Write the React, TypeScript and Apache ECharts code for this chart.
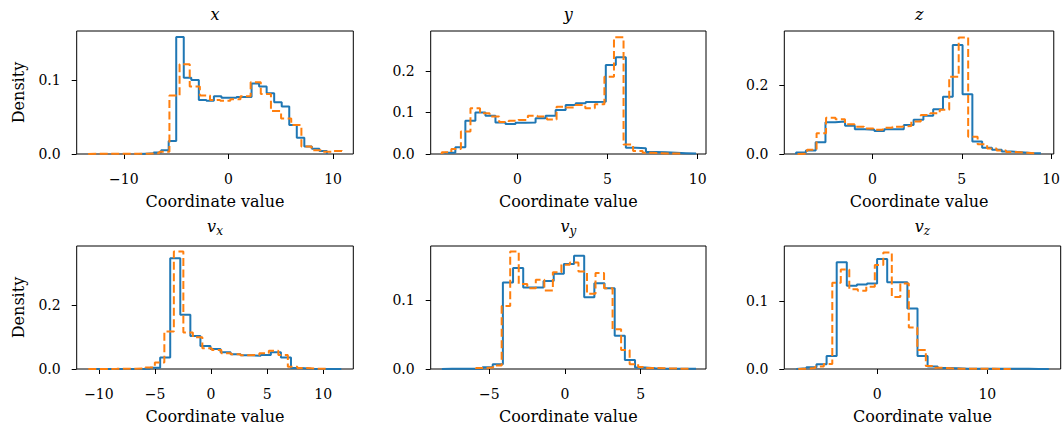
import React, { useEffect, useRef } from "react";
import * as echarts from "echarts";

// ---------- data (25-bin density histograms) ----------
// x
const xBlueRange = [-8.59, 9.41];
const xBlue = [0.0005, 0.001, 0.002, 0.005, 0.0176, 0.158, 0.103, 0.1, 0.073, 0.072, 0.078, 0.076, 0.076, 0.077, 0.077, 0.095, 0.091, 0.082, 0.07, 0.064, 0.039, 0.022, 0.01, 0.007, 0.004];
const xOrangeRange = [-13.4, 10.85];
const xOrange = [0.0003, 0.0003, 0.0003, 0.0003, 0.0004, 0.0005, 0.001, 0.003, 0.0788, 0.121, 0.091, 0.079, 0.073, 0.072, 0.074, 0.078, 0.097, 0.081, 0.058, 0.048, 0.039, 0.01, 0.005, 0.003, 0.004];
// y
const yBlueRange = [-4.0, 9.91];
const yBlue = [0.003, 0.016, 0.08, 0.1, 0.092, 0.076, 0.072, 0.075, 0.076, 0.086, 0.092, 0.106, 0.118, 0.122, 0.125, 0.126, 0.214, 0.233, 0.015, 0.014, 0.005, 0.004, 0.003, 0.002, 0.001];
const yOrangeRange = [-4.196, 9.07];
const yOrange = [0.004, 0.012, 0.054, 0.11, 0.098, 0.09, 0.077, 0.08, 0.082, 0.092, 0.09, 0.083, 0.114, 0.112, 0.118, 0.11, 0.12, 0.186, 0.281, 0.023, 0.007, 0.003, 0.002, 0.001, 0.001];
// z
const zBlueRange = [-4.28, 9.43];
const zBlue = [0.004, 0.01, 0.034, 0.092, 0.094, 0.082, 0.072, 0.07, 0.067, 0.072, 0.072, 0.084, 0.099, 0.111, 0.13, 0.166, 0.316, 0.173, 0.036, 0.018, 0.012, 0.007, 0.005, 0.003, 0.002];
const zOrangeRange = [-4.194, 9.07];
const zOrange = [0.001, 0.012, 0.06, 0.105, 0.101, 0.086, 0.079, 0.074, 0.07, 0.076, 0.079, 0.081, 0.094, 0.113, 0.118, 0.128, 0.224, 0.338, 0.05, 0.028, 0.016, 0.01, 0.006, 0.004, 0.002];
// v_x
const vxBlueRange = [-10.82, 11.62];
const vxBlue = [0.0003, 0.0003, 0.0003, 0.0003, 0.0003, 0.001, 0.004, 0.036, 0.346, 0.169, 0.103, 0.072, 0.0625, 0.052, 0.046, 0.043, 0.041, 0.044, 0.052, 0.036, 0.003, 0.001, 0.0003, 0.0003, 0.0003];
const vxOrangeRange = [-10.94, 10.24];
const vxOrange = [0.0003, 0.0003, 0.0005, 0.0008, 0.001, 0.002, 0.005, 0.02, 0.117, 0.367, 0.114, 0.099, 0.065, 0.059, 0.049, 0.046, 0.043, 0.044, 0.049, 0.057, 0.044, 0.007, 0.003, 0.001, 0.0005];
// v_y
const vyBlueRange = [-8.14, 8.66];
const vyBlue = [0.0003, 0.0003, 0.0003, 0.0003, 0.0025, 0.007, 0.125, 0.146, 0.118, 0.118, 0.1275, 0.138, 0.152, 0.164, 0.104, 0.124, 0.117, 0.048, 0.013, 0.002, 0.001, 0.0005, 0.0003, 0.0002, 0.0002];
const vyOrangeRange = [-5.88, 8.22];
const vyOrange = [0.0015, 0.002, 0.005, 0.091, 0.17, 0.123, 0.117, 0.129, 0.1135, 0.14, 0.151, 0.154, 0.141, 0.109, 0.139, 0.117, 0.0575, 0.0275, 0.007, 0.003, 0.0015, 0.001, 0.0008, 0.0005, 0.0005];
// v_z
const vzBlueRange = [-7.36, 15.59];
const vzBlue = [0.001, 0.0025, 0.007, 0.019, 0.157, 0.1225, 0.1245, 0.126, 0.162, 0.1275, 0.1275, 0.089, 0.019, 0.0035, 0.0015, 0.001, 0.0005, 0.0004, 0.0003, 0.0003, 0.0002, 0.0002, 0.0002, 0.0001, 0.0001];
const vzOrangeRange = [-7.18, 12.14];
const vzOrange = [0.0005, 0.0015, 0.0035, 0.0075, 0.127, 0.1465, 0.1175, 0.115, 0.121, 0.153, 0.1715, 0.106, 0.126, 0.061, 0.028, 0.0045, 0.002, 0.001, 0.0005, 0.0004, 0.0003, 0.0002, 0.0002, 0.0001, 0.0001];

// tick values
const xTicksX = [-10, 0, 10];
const xTicksY = [0, 5, 10];
const xTicksZ = [0, 5, 10];
const xTicksVx = [-10, -5, 0, 5, 10];
const xTicksVy = [-5, 0, 5];
const xTicksVz = [0, 10];
const yTicksX = [0, 0.1];
const yTicksY = [0, 0.1, 0.2];
const yTicksZ = [0, 0.2];
const yTicksVx = [0, 0.2];
const yTicksVy = [0, 0.1];
const yTicksVz = [0, 0.1];

const AXIS_LABEL = "Coordinate value";
const Y_LABEL = "Density";

// ---------- layout / style ----------
const FONT = "DejaVu Serif";
const BLUE = "#1f77b4";
const ORANGE = "#ff7f0e";

const panels = [
  { title: ["x", ""], grid: { left: 76.7, top: 31, width: 276.6, height: 123 }, xMin: -14.5, xMax: 11.93, yMax: 0.166, xTicks: xTicksX, yTicks: yTicksX, blue: [xBlueRange, xBlue], orange: [xOrangeRange, xOrange], ylab: true },
  { title: ["y", ""], grid: { left: 430.7, top: 31, width: 275.3, height: 123 }, xMin: -4.81, xMax: 10.46, yMax: 0.296, xTicks: xTicksY, yTicks: yTicksY, blue: [yBlueRange, yBlue], orange: [yOrangeRange, yOrange], ylab: false },
  { title: ["z", ""], grid: { left: 784.3, top: 31, width: 269.7, height: 123 }, xMin: -4.94, xMax: 10.15, yMax: 0.3565, xTicks: xTicksZ, yTicks: yTicksZ, blue: [zBlueRange, zBlue], orange: [zOrangeRange, zOrange], ylab: false },
  { title: ["v", "x"], grid: { left: 76.7, top: 246, width: 276.6, height: 123 }, xMin: -11.98, xMax: 12.69, yMax: 0.384, xTicks: xTicksVx, yTicks: yTicksVx, blue: [vxBlueRange, vxBlue], orange: [vxOrangeRange, vxOrange], ylab: true },
  { title: ["v", "y"], grid: { left: 430.7, top: 246, width: 275.3, height: 123 }, xMin: -8.88, xMax: 9.32, yMax: 0.178, xTicks: xTicksVy, yTicks: yTicksVy, blue: [vyBlueRange, vyBlue], orange: [vyOrangeRange, vyOrange], ylab: false },
  { title: ["v", "z"], grid: { left: 784.3, top: 246, width: 276.4, height: 123 }, xMin: -8.45, xMax: 16.67, yMax: 0.181, xTicks: xTicksVz, yTicks: yTicksVz, blue: [vzBlueRange, vzBlue], orange: [vzOrangeRange, vzOrange], ylab: false },
];

function stepPoints(range: number[], heights: number[]) {
  const n = heights.length;
  const w = (range[1] - range[0]) / n;
  const pts: number[][] = [[range[0], 0]];
  for (let i = 0; i < n; i++) {
    const a = range[0] + i * w;
    const b = range[0] + (i + 1) * w;
    pts.push([a, heights[i]], [b, heights[i]]);
  }
  pts.push([range[1], 0]);
  return pts;
}

const fmtX = (v: number) => (v < 0 ? "\u2212" + Math.abs(v) : String(v));
const fmtY = (v: number) => v.toFixed(1);

function buildOption() {
  const grid: any[] = [];
  const xAxis: any[] = [];
  const yAxis: any[] = [];
  const series: any[] = [];
  const graphic: any[] = [];
  panels.forEach((p, i) => {
    grid.push({ ...p.grid, show: true, borderColor: "#000", borderWidth: 1, backgroundColor: "transparent", containLabel: false });
    xAxis.push({
      type: "value", gridIndex: i, min: p.xMin, max: p.xMax, position: "bottom",
      axisLine: { show: false, onZero: false },
      axisTick: { show: true, inside: false, length: 5, lineStyle: { color: "#000", width: 1 }, customValues: p.xTicks },
      axisLabel: { show: true, customValues: p.xTicks, formatter: fmtX, color: "#000", fontFamily: FONT, fontSize: 14, margin: 18 },
      splitLine: { show: false },
    });
    yAxis.push({
      type: "value", gridIndex: i, min: 0, max: p.yMax, position: "left",
      axisLine: { show: false, onZero: false },
      axisTick: { show: true, inside: false, length: 5, lineStyle: { color: "#000", width: 1 }, customValues: p.yTicks },
      axisLabel: { show: true, customValues: p.yTicks, formatter: fmtY, color: "#000", fontFamily: FONT, fontSize: 14, margin: 16 },
      splitLine: { show: false },
    });
    series.push({
      type: "line", xAxisIndex: i, yAxisIndex: i, data: stepPoints(p.blue[0] as number[], p.blue[1] as number[]),
      showSymbol: false, symbol: "none", silent: true, z: 2,
      lineStyle: { color: BLUE, width: 2 },
    });
    series.push({
      type: "line", xAxisIndex: i, yAxisIndex: i, data: stepPoints(p.orange[0] as number[], p.orange[1] as number[]),
      showSymbol: false, symbol: "none", silent: true, z: 3,
      lineStyle: { color: ORANGE, width: 2, type: [8, 3.5] },
    });
    const cx = p.grid.left + p.grid.width / 2;
    const cy = p.grid.top + p.grid.height / 2;
    const titleText = p.title[1] ? `{v|${p.title[0]}}{s|${p.title[1]}}` : `{v|${p.title[0]}}`;
    graphic.push({
      type: "text", x: cx, y: p.grid.top - 9,
      style: {
        text: titleText, align: "center", verticalAlign: "bottom",
        rich: {
          v: { fontFamily: FONT, fontStyle: "italic", fontSize: 16, fill: "#000" },
          s: { fontFamily: FONT, fontStyle: "italic", fontSize: 12, fill: "#000", padding: [9, 0, 0, 0] },
        },
      },
    });
    graphic.push({
      type: "text", x: cx, y: p.grid.top + p.grid.height + 47,
      style: { text: AXIS_LABEL, align: "center", verticalAlign: "middle", fontFamily: FONT, fontSize: 16, fill: "#000" },
    });
    if (p.ylab) {
      graphic.push({
        type: "text", x: 18, y: cy, rotation: Math.PI / 2,
        style: { text: Y_LABEL, align: "center", verticalAlign: "middle", fontFamily: FONT, fontSize: 16, fill: "#000" },
      });
    }
  });
  return { animation: false, backgroundColor: "#fff", grid, xAxis, yAxis, series, graphic };
}

export default function App() {
  const ref = useRef<HTMLDivElement>(null);
  useEffect(() => {
    if (!ref.current) return;
    const chart = echarts.init(ref.current, undefined, { renderer: "svg" });
    chart.setOption(buildOption() as any);
    return () => chart.dispose();
  }, []);
  return <div ref={ref} style={{ position: "fixed", left: 0, top: 0, width: 1063, height: 425 }} />;
}
